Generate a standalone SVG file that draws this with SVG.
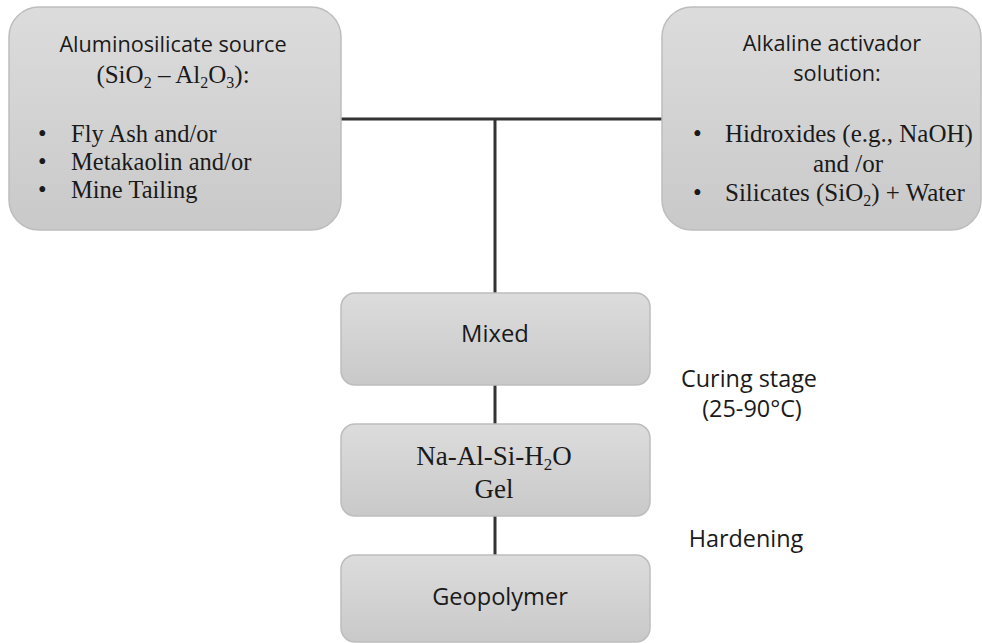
<svg xmlns="http://www.w3.org/2000/svg" width="982" height="643" viewBox="0 0 982 643">
<defs>
<linearGradient id="g" x1="0" y1="0" x2="0" y2="1">
<stop offset="0" stop-color="#dcdcdc"/>
<stop offset="1" stop-color="#c9c9c9"/>
</linearGradient>
<style>
.box{fill:url(#g);stroke:#bdbdbd;stroke-width:1.5}
.conn{stroke:#333;stroke-width:3;fill:none}
.sans{font-family:"Open Sans","Noto Sans",sans-serif;fill:#1a1a1a}
.serif{font-family:"Liberation Serif","Times New Roman",serif;fill:#1a1a1a}
</style>
</defs>
<rect width="982" height="643" fill="#fff"/>
<g id="connectors">
<line class="conn" x1="341" y1="119" x2="662" y2="119"/>
<line class="conn" x1="495" y1="119" x2="495" y2="293"/>
<line class="conn" x1="495" y1="385" x2="495" y2="424"/>
<line class="conn" x1="495" y1="516" x2="495" y2="555"/>
</g>
<g id="source">
<rect class="box" x="9" y="7" width="332" height="223" rx="30"/>
<text class="sans" x="173" y="52" font-size="21.7" text-anchor="middle">Aluminosilicate source</text>
<text class="serif" x="173" y="83" font-size="25" text-anchor="middle">(SiO<tspan font-size="16" dy="5">2</tspan><tspan dy="-5"> – Al</tspan><tspan font-size="16" dy="5">2</tspan><tspan dy="-5">O</tspan><tspan font-size="16" dy="5">3</tspan><tspan dy="-5">):</tspan></text>
<g class="serif" font-size="24.5">
<text x="38" y="142">•</text><text x="71" y="142">Fly Ash and/or</text>
<text x="38" y="170">•</text><text x="71" y="170">Metakaolin and/or</text>
<text x="38" y="198">•</text><text x="71" y="198">Mine Tailing</text>
</g>
</g>
<g id="activator">
<rect class="box" x="662" y="7" width="319" height="223" rx="30"/>
<text class="sans" x="832" y="51" font-size="21.7" text-anchor="middle">Alkaline activador</text>
<text class="sans" x="837" y="81" font-size="21.7" text-anchor="middle">solution:</text>
<g class="serif" font-size="25">
<text x="693" y="142">•</text><text x="725" y="142">Hidroxides (e.g., NaOH)</text>
<text x="848" y="172" text-anchor="middle">and /or</text>
<text x="693" y="201">•</text><text x="725" y="201">Silicates (SiO<tspan font-size="16" dy="5">2</tspan><tspan dy="-5">) + Water</tspan></text>
</g>
</g>
<g id="mixed">
<rect class="box" x="341" y="293" width="309" height="92" rx="14"/>
<text class="sans" x="495" y="342" font-size="23.8" text-anchor="middle">Mixed</text>
</g>
<g id="gel">
<rect class="box" x="341" y="424" width="309" height="92" rx="14"/>
<text class="serif" x="494" y="465" font-size="27" text-anchor="middle">Na-Al-Si-H<tspan font-size="17" dy="5">2</tspan><tspan dy="-5">O</tspan></text>
<text class="serif" x="494" y="498" font-size="27" text-anchor="middle">Gel</text>
</g>
<g id="geopolymer">
<rect class="box" x="341" y="555" width="309" height="87" rx="14"/>
<text class="sans" x="500" y="605" font-size="23.6" text-anchor="middle">Geopolymer</text>
</g>
<g id="labels">
<text class="sans" x="749" y="387" font-size="23.4" text-anchor="middle">Curing stage</text>
<text class="sans" x="752" y="417" font-size="23.4" text-anchor="middle">(25-90°C)</text>
<text class="sans" x="746" y="547" font-size="23.4" text-anchor="middle">Hardening</text>
</g>
</svg>
